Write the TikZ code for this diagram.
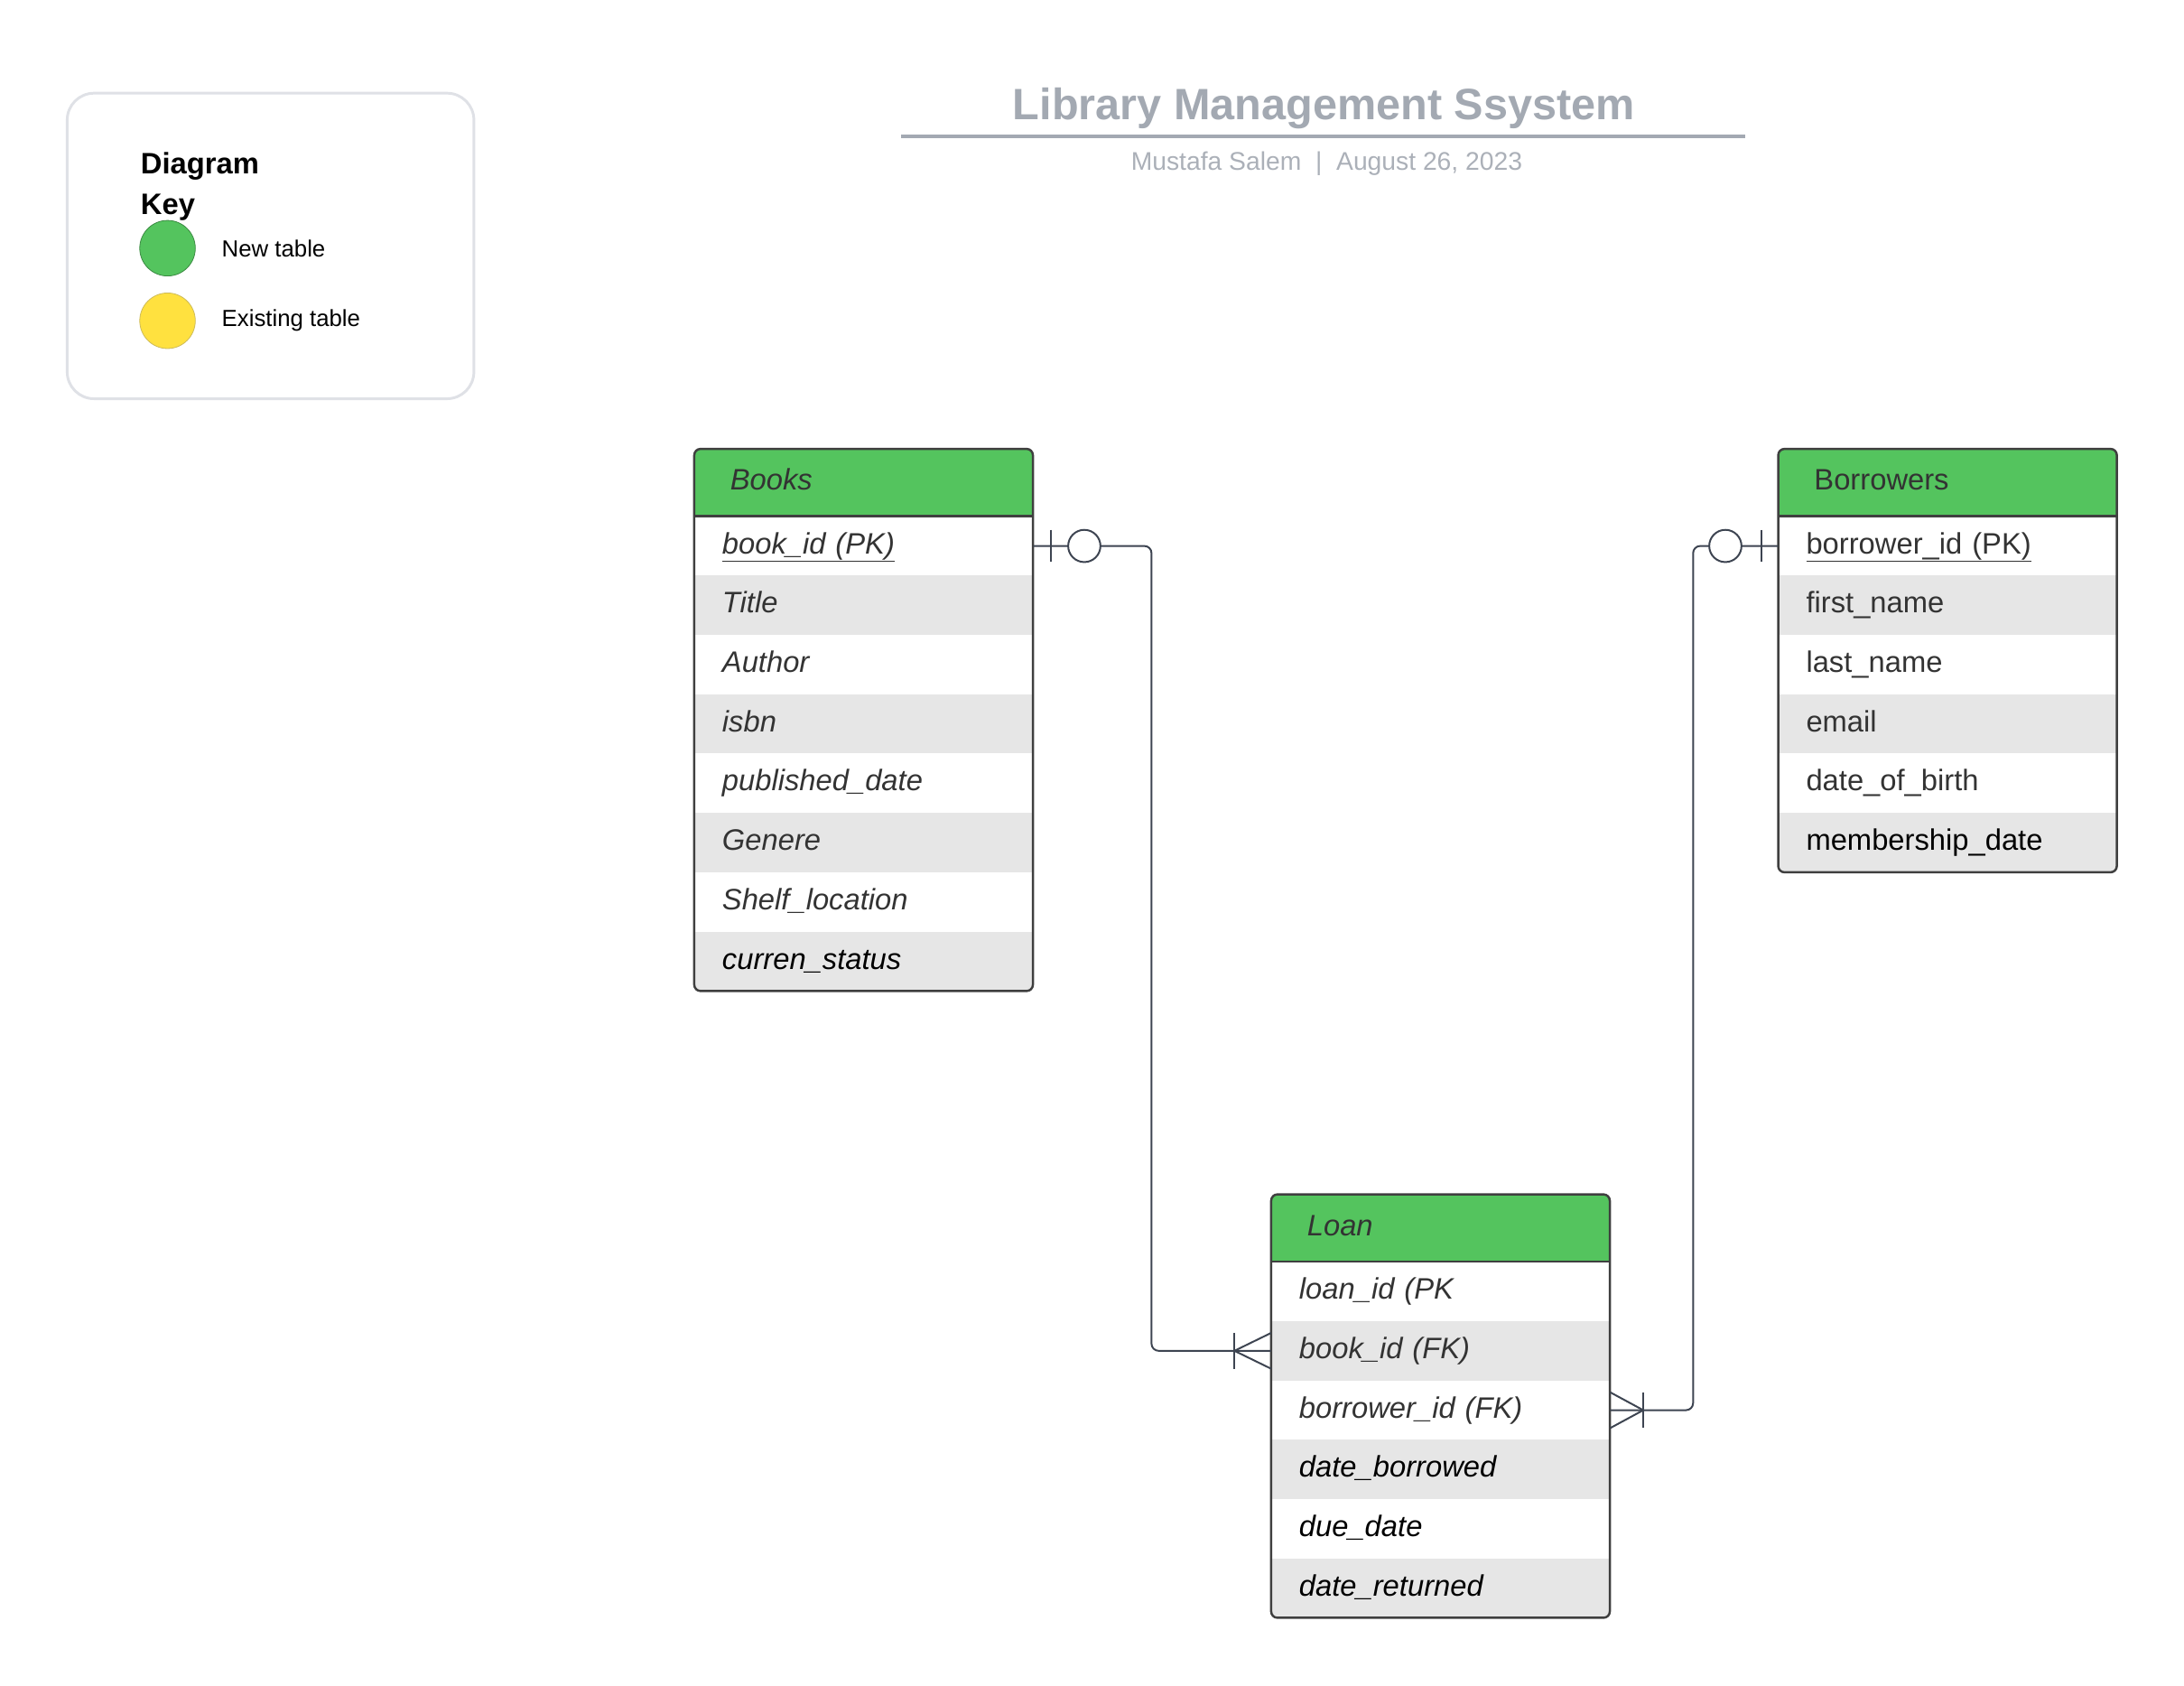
\documentclass[tikz,border=0pt]{standalone}
\usepackage{fontspec}
\setmainfont{Liberation Sans}
\usetikzlibrary{positioning}
\definecolor{newgreen}{HTML}{54C45E}
\definecolor{oldyellow}{HTML}{FFE13F}
\definecolor{rowgray}{HTML}{E6E6E6}
\definecolor{rowtxt}{HTML}{333333}
\definecolor{tabborder}{HTML}{3F3F3F}
\definecolor{connline}{HTML}{3D4451}
\definecolor{titlegray}{HTML}{A3A9B2}
\definecolor{subgray}{HTML}{ABB0B8}
\definecolor{keyline}{HTML}{DFE1E6}
\begin{document}
\begin{tikzpicture}[x=1pt,y=-1pt]
    \tikzstyle{conn}=[draw=connline,line width=2pt]
    \tikzstyle{tabline}=[draw=tabborder,line width=2.5pt]
    \tikzstyle{head}=[anchor=north west,inner xsep=40pt,inner ysep=0pt,text width=298pt,text height=24pt,text depth=7pt,minimum height=75pt,align=left,text=rowtxt]
    \tikzstyle{field}=[anchor=north west,inner xsep=31pt,inner ysep=0pt,text width=316pt,text height=24pt,text depth=7pt,minimum height=66.25pt,align=left]
    \tikzstyle{keytext}=[inner sep=0pt,font=\fontsize{26}{31}\selectfont]
    \newcommand\ertable[7]{
        \pgfmathsetmacro\tabbot{#3+75+66.25*#4}
        \begin{scope}
            \clip[rounded corners=7] (#2,#3) rectangle (#2+378,\tabbot);
            \fill[newgreen] (#2,#3) rectangle (#2+378,#3+75);
            \foreach \k in {2,4,...,#4}
                \fill[rowgray] (#2,#3+75+66.25*\k-66.25) rectangle (#2+378,#3+75+66.25*\k);
        \end{scope}
        \node[head,font=\fontsize{33}{40}\selectfont#5] (#1) at (#2,#3) {#6};
        \foreach \fld/\fcol [count=\i] in {#7}{
            \pgfmathsetmacro\rowy{#3+75+66.25*(\i-1)}
            \node[field,text=\fcol,font=\fontsize{33}{40}\selectfont#5] (#1-\i) at (#2,\rowy) {\fld};
        }
        \draw[tabline,rounded corners=7] (#2,#3) rectangle (#2+378,\tabbot);
        \draw[tabline] (#2,#3+75) -- (#2+378,#3+75);
    }
    \useasboundingbox (0,0) rectangle (2438,1881);
    % diagram key
    \draw[keyline,line width=3pt,rounded corners=30] (75,104) rectangle (529,445);
    \node[anchor=west,inner sep=0pt,align=left,font=\fontsize{33}{46}\selectfont\bfseries] (keyhead) at (157,208) {Diagram\\Key};
    \node[circle,fill=newgreen,draw=newgreen!70!black,line width=0.8pt,minimum size=62pt,inner sep=0pt] (newdot) at (187,277) {};
    \node[circle,fill=oldyellow,draw=oldyellow!60!gray,line width=0.8pt,minimum size=62pt,inner sep=0pt] (olddot) at (187,358) {};
    \node[keytext,right=29pt of newdot] (newlbl) {New table};
    \node[keytext,right=29pt of olddot] (oldlbl) {Existing table};
    % title
    \node[text=titlegray,font=\fontsize{49}{58}\selectfont\bfseries] (ttl) at (1478,121) {Library Management Ssystem};
    \draw[titlegray,line width=4.5pt] (1006,152) -- (1948,152);
    \node[text=subgray,font=\fontsize{28.5}{34}\selectfont] (sub) at (1481,183) {Mustafa Salem~~|~~August 26, 2023};
    % tables
    \ertable{books}{775}{501}{8}{\itshape}{Books}{\underline{book\_id (PK)}/rowtxt,Title/rowtxt,Author/rowtxt,isbn/rowtxt,published\_date/rowtxt,Genere/rowtxt,Shelf\_location/rowtxt,curren\_status/black}
    \ertable{borrowers}{1985}{501}{6}{\upshape}{Borrowers}{\underline{borrower\_id (PK)}/rowtxt,first\_name/rowtxt,last\_name/rowtxt,email/rowtxt,date\_of\_birth/rowtxt,membership\_date/black}
    \ertable{loan}{1419}{1333}{6}{\itshape}{Loan}{loan\_id (PK/rowtxt,book\_id (FK)/rowtxt,borrower\_id (FK)/rowtxt,date\_borrowed/black,due\_date/black,date\_returned/black}
    % relations
    \draw[conn,rounded corners=8] (books-1.east) -- ++(132,0) |- (loan-2.west);
    \draw[conn,rounded corners=8] (borrowers-1.west) -- ++(-95,0) |- (loan-3.east);
    \draw[conn] ([xshift=20]books-1.east) ++(0,-18) -- ++(0,36);
    \draw[conn,fill=white] ([xshift=57]books-1.east) circle (18);
    \draw[conn] ([xshift=-19]borrowers-1.west) ++(0,-18) -- ++(0,36);
    \draw[conn,fill=white] ([xshift=-59]borrowers-1.west) circle (18);
    \draw[conn] ([xshift=-41]loan-2.west) ++(0,-20) -- ++(0,40);
    \draw[conn] ([yshift=20]loan-2.west) -- ([xshift=-41]loan-2.west) -- ([yshift=-20]loan-2.west);
    \draw[conn] ([xshift=37]loan-3.east) ++(0,-20) -- ++(0,40);
    \draw[conn] ([yshift=20]loan-3.east) -- ([xshift=37]loan-3.east) -- ([yshift=-20]loan-3.east);
\end{tikzpicture}
\end{document}
